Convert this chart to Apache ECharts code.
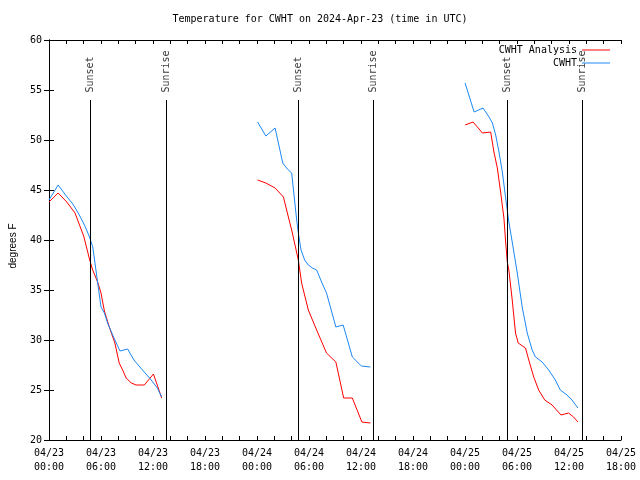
<!DOCTYPE html>
<html>
<head>
<meta charset="utf-8">
<script src="https://cdn.jsdelivr.net/npm/echarts@6/dist/echarts.min.js"></script>
<style>
  html, body { margin: 0; padding: 0; background: #fff; }
  #chart { width: 640px; height: 480px; }
</style>
</head>
<body>
<div id="chart"></div>
<script>
// Hours since 04/23 00:00 UTC; null separates the three segments
const analysisHours = [
  0, 1.05, 2.05, 3, 4, 4.67, 5, 5.65, 6, 6.39, 6.96, 7.6, 8.1, 8.5, 8.9, 9.5, 10.05, 11, 12.05, 13, null,
  24.07, 25.02, 26.09, 27.05, 27.62, 28.0, 28.77, 29.15, 29.92, 30.88, 32.02, 33.1, 34.0, 35.0, 36.1, 37.08, null,
  48.01, 48.93, 49.43, 50.01, 50.96, 51.34, 51.73, 52.11, 52.49, 52.69, 52.88, 53.06, 53.45, 53.83, 54.14, 54.98, 55.36, 55.93, 56.5, 57.2, 58.05, 59.08, 59.95, 60.53, 61.03
];
const analysisTemps = [
  43.8, 44.7, 43.8, 42.7, 40.4, 38.1, 37.1, 35.7, 34.7, 32.9, 31.3, 29.7, 27.7, 27.0, 26.2, 25.7, 25.5, 25.5, 26.6, 24.2, null,
  46.0, 45.7, 45.2, 44.3, 42.3, 41.0, 38.0, 35.7, 33.0, 31.0, 28.7, 27.8, 24.2, 24.2, 21.8, 21.7, null,
  51.5, 51.8, 51.3, 50.7, 50.8, 48.8, 47.2, 44.8, 42.2, 39.8, 37.8, 37.0, 34.0, 30.7, 29.7, 29.2, 28.0, 26.3, 25.0, 24.0, 23.5, 22.5, 22.7, 22.3, 21.8
];
const obsHours = [
  0, 1.05, 2, 2.75, 3.5, 4.2, 4.67, 5.05, 6.0, 6.39, 6.8, 7.5, 8.19, 9.07, 9.8, 10.79, 11.7, 12.5, 13.0, null,
  24.07, 25.02, 26.09, 26.97, 27.5, 28.0, 28.58, 28.77, 29.08, 29.5, 29.92, 30.4, 30.88, 31.5, 32.02, 33.1, 33.94, 35.0, 36.04, 37.08, null,
  48.01, 49.05, 50.08, 50.77, 51.16, 51.54, 51.92, 52.31, 52.69, 53.06, 53.45, 54.03, 54.6, 55.18, 55.75, 56.13, 56.9, 57.66, 58.42, 59.0, 59.77, 60.34, 61.03
];
const obsTemps = [
  44.0, 45.5, 44.4, 43.6, 42.5, 41.3, 40.3, 39.3, 33.3, 32.7, 31.6, 30.2, 28.9, 29.1, 28.0, 27.0, 26.1, 25.2, 24.3, null,
  51.8, 50.4, 51.2, 47.7, 47.1, 46.7, 42.0, 40.7, 39.0, 38.0, 37.5, 37.2, 37.0, 35.7, 34.7, 31.3, 31.5, 28.3, 27.4, 27.3, null,
  55.7, 52.8, 53.2, 52.3, 51.7, 50.5, 48.8, 46.8, 44.2, 41.8, 39.8, 36.7, 33.3, 30.7, 29.0, 28.3, 27.8, 27.0, 26.0, 25.0, 24.5, 24.0, 23.2
];
const sunsetHours = [4.74, 28.73, 52.88];
const sunriseHours = [13.58, 37.45, 61.49];
const eventLineTop = 54;
const xTickLabels = [
  '04/23\n00:00', '04/23\n06:00', '04/23\n12:00', '04/23\n18:00',
  '04/24\n00:00', '04/24\n06:00', '04/24\n12:00', '04/24\n18:00',
  '04/25\n00:00', '04/25\n06:00', '04/25\n12:00', '04/25\n18:00'
];
const seriesNames = ['CWHT Analysis', 'CWHT'];
const seriesColors = ['#ff0000', '#1b88f5'];

const MONO = '"DejaVu Sans Mono", "Liberation Mono", monospace';

function pairs(hours, temps) {
  return hours.map((h, i) => (h === null || temps[i] === null) ? ['-', '-'] : [h, temps[i]]);
}

function eventSeries(name, hours) {
  return {
    name: name,
    type: 'scatter',
    data: hours.map(h => [h, eventLineTop]),
    symbolSize: 1,
    itemStyle: { color: 'rgba(0,0,0,0)' },
    silent: true,
    z: 3,
    label: {
      show: true,
      formatter: name,
      position: 'top',
      distance: 7,
      rotate: 90,
      align: 'left',
      verticalAlign: 'middle',
      fontFamily: MONO,
      fontSize: 10,
      color: '#000'
    },
    markLine: {
      silent: true,
      symbol: ['none', 'none'],
      label: { show: false },
      lineStyle: { color: '#000', width: 1, type: 'solid' },
      data: hours.map(h => [{ coord: [h, 20] }, { coord: [h, eventLineTop] }])
    }
  };
}

const axisLineStyle = { show: true, lineStyle: { color: '#000', width: 1 } };

function xAx(pos, showLabels) {
  return {
    type: 'value', position: pos, min: 0, max: 66, interval: 6,
    axisLine: axisLineStyle,
    axisTick: { show: true, inside: true, length: 4, lineStyle: { color: '#000' } },
    minorTick: { show: true, splitNumber: 3, length: 4, lineStyle: { color: '#000' } },
    splitLine: { show: false },
    minorSplitLine: { show: false },
    axisLabel: {
      show: showLabels, margin: 6,
      fontFamily: MONO, fontSize: 10, color: '#000', lineHeight: 14,
      formatter: v => xTickLabels[Math.round(v / 6)]
    }
  };
}
function yAx(pos, showLabels) {
  const a = {
    type: 'value', position: pos, min: 20, max: 60, interval: 5,
    axisLine: axisLineStyle,
    axisTick: { show: true, inside: true, length: 5, lineStyle: { color: '#000' } },
    splitLine: { show: false },
    axisLabel: { show: showLabels, margin: 7, fontFamily: MONO, fontSize: 10, color: '#000' }
  };
  if (showLabels) {
    a.name = 'degrees F';
    a.nameLocation = 'middle';
    a.nameRotate = 90;
    a.nameGap = 31;
    a.nameTextStyle = { fontFamily: '"Liberation Sans", Arial, sans-serif', fontSize: 10, color: '#000', padding: [0, 12, 0, 0] };
  }
  return a;
}

const chart = echarts.init(document.getElementById('chart'), null, { renderer: 'canvas' });
chart.setOption({
  animation: false,
  backgroundColor: '#fff',
  title: {
    text: 'Temperature for CWHT on 2024-Apr-23 (time in UTC)',
    left: 'center',
    top: 14,
    padding: [0, 0, 0, 27],
    textStyle: { fontFamily: MONO, fontSize: 10, fontWeight: 'normal', color: '#000' }
  },
  legend: [
    {
      data: [seriesNames[0]], right: 30, top: 45, orient: 'vertical', align: 'right',
      icon: 'rect', itemWidth: 28, itemHeight: 1, padding: 0, selectedMode: false,
      textStyle: { fontFamily: MONO, fontSize: 10, color: '#000' }
    },
    {
      data: [seriesNames[1]], right: 30, top: 58, orient: 'vertical', align: 'right',
      icon: 'rect', itemWidth: 28, itemHeight: 1, padding: 0, selectedMode: false,
      textStyle: { fontFamily: MONO, fontSize: 10, color: '#000' }
    }
  ],
  grid: { left: 46, right: 19, top: 40, bottom: 40, containLabel: false },
  xAxis: [xAx('bottom', true), xAx('top', false)],
  yAxis: [yAx('left', true), yAx('right', false)],
  series: [
    {
      name: seriesNames[0], type: 'line', data: pairs(analysisHours, analysisTemps),
      showSymbol: false, symbol: 'none', connectNulls: false, z: 4,
      itemStyle: { color: seriesColors[0] },
      lineStyle: { color: seriesColors[0], width: 1 }
    },
    {
      name: seriesNames[1], type: 'line', data: pairs(obsHours, obsTemps),
      showSymbol: false, symbol: 'none', connectNulls: false, z: 4,
      itemStyle: { color: seriesColors[1] },
      lineStyle: { color: seriesColors[1], width: 1 }
    },
    eventSeries('Sunset', sunsetHours),
    eventSeries('Sunrise', sunriseHours)
  ]
});
</script>
</body>
</html>
